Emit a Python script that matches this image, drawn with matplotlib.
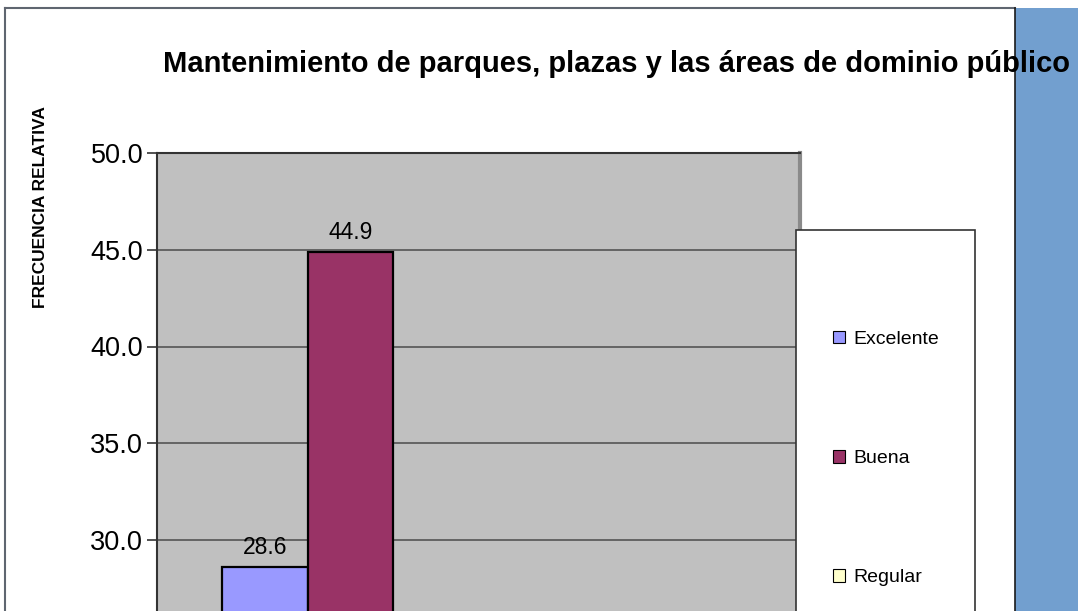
import matplotlib
matplotlib.use("Agg")
import matplotlib.pyplot as plt
from matplotlib.patches import Rectangle
import numpy as np

categories = ["Excelente", "Buena", "Regular"]
values = [28.6, 44.9, 20.4]
colors = ["#9999FF", "#993366", "#FFFFCC"]
yticks = [0.0, 5.0, 10.0, 15.0, 20.0, 25.0, 30.0, 35.0, 40.0, 45.0, 50.0]
title = "Mantenimiento de parques, plazas y las áreas de dominio público"
ylabel = "FRECUENCIA RELATIVA"

W, H = 1078, 611
fig = plt.figure(figsize=(W / 100, H / 100), dpi=100)
plt.rcParams['font.family'] = ['Liberation Sans', 'DejaVu Sans']

def fx(px):
    return px / W

def fy(py):
    return 1 - py / H

# outer chart border
fig.add_artist(plt.Line2D([fx(5), fx(5)], [fy(8), 0], color="#5f6670", lw=1.5))
fig.add_artist(plt.Line2D([fx(5), fx(1015)], [fy(8), fy(8)], color="#5f6670", lw=1.5))
# blue side panel
fig.add_artist(Rectangle((fx(1015), 0), 1 - fx(1015), fy(8), facecolor="#729FCF",
                         edgecolor="none", zorder=0))
fig.add_artist(plt.Line2D([fx(1015), fx(1015)], [fy(8), 0], color="#1a1a1a", lw=1.2))

# axes: top at y=153 px (50), px per unit from gridlines
px_per_unit = (540 - 153) / 20.0
y0_px = 153 + 50 * px_per_unit
left, right = 157, 800
ax = fig.add_axes([fx(left), fy(y0_px), fx(right - left), (y0_px - 153) / H])
ax.set_facecolor("#C0C0C0")
ax.set_ylim(0, 50)
bar_px = 85.5
units = (right - left) / bar_px
xl = -0.5 - (222 - left) / bar_px
ax.set_xlim(xl, xl + units)

x = np.arange(len(categories))
for i, (c, v, col) in enumerate(zip(categories, values, colors)):
    ax.bar(x[i], v, width=1.0, color=col, edgecolor="#000000", linewidth=1.6,
           label=c, zorder=3)
    ax.text(x[i], v + 0.4, f"{v:.1f}", ha="center", va="bottom", fontsize=16.5,
            color="#000000", zorder=4)

ax.set_yticks(yticks)
ax.set_yticklabels([f"{t:.1f}" for t in yticks], fontsize=19.5)
ax.yaxis.grid(True, color="#555555", lw=1.2, zorder=1)
ax.set_axisbelow(True)
ax.tick_params(axis="y", length=7, width=1.2, color="#333333", pad=3)
ax.set_xticks([])
for s in ["left", "top"]:
    ax.spines[s].set_color("#333333")
    ax.spines[s].set_linewidth(1.5)
ax.spines["right"].set_color("#8a8a8a")
ax.spines["right"].set_linewidth(3)
ax.spines["bottom"].set_visible(False)

fig.text(fx(41), fy(207), ylabel, rotation=90, ha="center", va="center",
         fontsize=12.5, fontweight="bold")
fig.text(fx(163), fy(64), title, ha="left", va="center", fontsize=21,
         fontweight="bold", zorder=5)

# legend box (extends below figure)
leg_top = 230
fig.add_artist(Rectangle((fx(796), fy(leg_top + 600)), fx(975 - 796), 600 / H,
                         facecolor="white", edgecolor="#333333", lw=1.2, zorder=6))
handles = [Rectangle((0, 0), 1, 1, facecolor=c, edgecolor="#000000", lw=0.8) for c in colors]
leg = fig.legend(handles, categories, loc="upper left",
                 bbox_to_anchor=(fx(823), fy(321)), frameon=False, fontsize=14,
                 labelspacing=5.25, handlelength=0.62, handleheight=0.62,
                 handletextpad=0.45, borderpad=0)
leg.set_zorder(7)

fig.savefig("out.png", dpi=100)
